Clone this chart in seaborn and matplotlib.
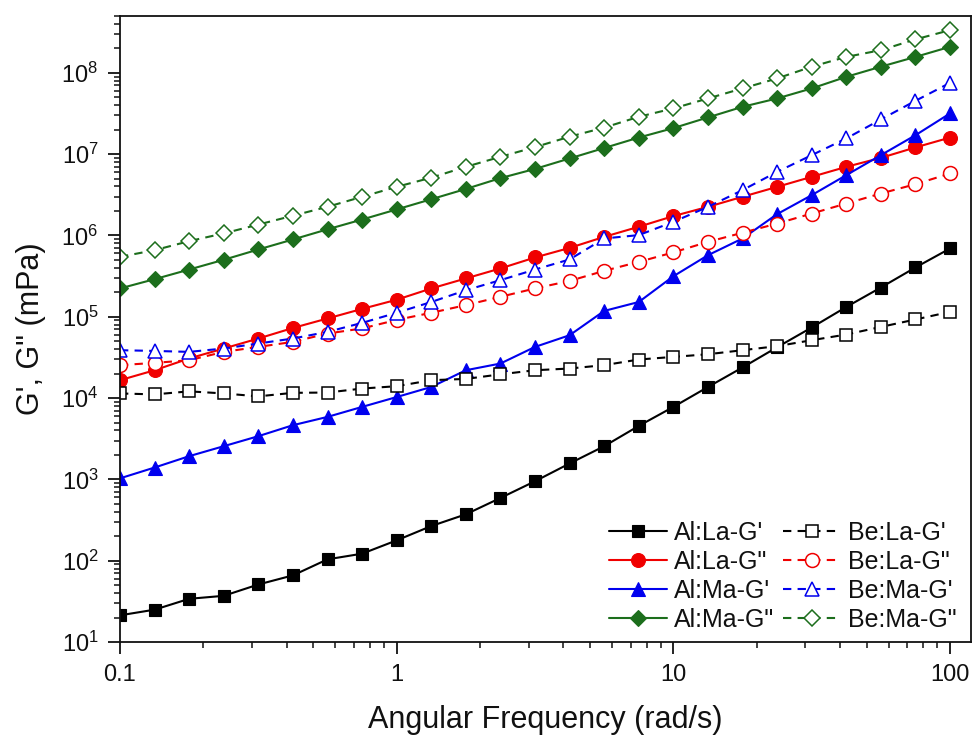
import numpy as np
import pandas as pd
import matplotlib
matplotlib.use("Agg")
import matplotlib.pyplot as plt
import seaborn as sns
from matplotlib.ticker import LogLocator, NullFormatter

# ---------------- data ----------------
freq = [0.1, 0.1334, 0.1778, 0.2371, 0.3162, 0.4217, 0.5623, 0.7499,
        1.0, 1.334, 1.778, 2.371, 3.162, 4.217, 5.623, 7.499,
        10.0, 13.34, 17.78, 23.71, 31.62, 42.17, 56.23, 74.99, 100.0]

al_la_g1 = [21.3, 25, 34, 37, 51, 66, 104, 122, 178, 267, 372, 591, 949, 1570,
            2560, 4550, 7790, 13700, 23800, 42200, 73800, 132000, 229000, 404000, 692000]
al_la_g2 = [16600, 22000, 30700, 40700, 54000, 72800, 95300, 125000, 162000, 223000,
            296000, 393000, 536000, 703000, 961000, 1.28e6, 1.73e6, 2.25e6, 2.99e6,
            3.96e6, 5.26e6, 6.98e6, 9.0e6, 1.21e7, 1.60e7]
al_ma_g1 = [1030, 1400, 1930, 2560, 3400, 4640, 5870, 7790, 10300, 13700, 22000,
            26600, 42600, 59300, 118000, 152000, 315000, 572000, 918000, 1.83e6,
            3.13e6, 5.52e6, 9.72e6, 1.71e7, 3.17e7]
al_ma_g2 = [223000, 290000, 381000, 502000, 672000, 892000, 1.19e6, 1.57e6, 2.09e6,
            2.79e6, 3.73e6, 5.07e6, 6.58e6, 8.85e6, 1.19e7, 1.60e7, 2.09e7, 2.83e7,
            3.82e7, 4.84e7, 6.43e7, 8.93e7, 1.19e8, 1.57e8, 2.09e8]
be_la_g1 = [11400, 11100, 12100, 11400, 10500, 11600, 11700, 13100, 14000, 16600,
            17200, 19600, 22000, 23100, 25400, 29800, 32100, 34600, 38800, 43500,
            51500, 60500, 75000, 92600, 115000]
be_la_g2 = [25400, 27100, 29200, 37000, 42600, 49100, 62200, 71800, 91500, 112000,
            139000, 176000, 223000, 276000, 367000, 473000, 619000, 834000, 1.08e6,
            1.40e6, 1.86e6, 2.47e6, 3.28e6, 4.27e6, 5.78e6]
be_ma_g1 = [38800, 38000, 37000, 40700, 46900, 54000, 65200, 84100, 112000, 152000,
            212000, 282000, 381000, 507000, 918000, 1.01e6, 1.47e6, 2.25e6, 3.61e6,
            6.05e6, 9.72e6, 1.56e7, 2.67e7, 4.53e7, 7.53e7]
be_ma_g2 = [546000, 659000, 851000, 1.06e6, 1.36e6, 1.75e6, 2.25e6, 2.99e6, 3.96e6,
            5.14e6, 6.98e6, 9.27e6, 1.22e7, 1.64e7, 2.12e7, 2.88e7, 3.65e7, 4.84e7,
            6.43e7, 8.53e7, 1.19e8, 1.57e8, 1.90e8, 2.58e8, 3.35e8]

labels = ["Al:La-G'", 'Al:La-G"', "Al:Ma-G'", 'Al:Ma-G"',
          "Be:La-G'", 'Be:La-G"', "Be:Ma-G'", 'Be:Ma-G"']
series = [al_la_g1, al_la_g2, al_ma_g1, al_ma_g2, be_la_g1, be_la_g2, be_ma_g1, be_ma_g2]
x_tick_labels = ["0.1", "1", "10", "100"]

# ---------------- style ----------------
BLACK, RED, BLUE, GREEN = "#000000", "#f00000", "#0000ee", "#1c6e1c"
colors = [BLACK, RED, BLUE, GREEN, BLACK, RED, BLUE, GREEN]
markers = ["s", "o", "^", "D", "s", "o", "^", "D"]
msizes = [9, 10, 10.5, 8, 9, 10, 10.5, 8]
filled = [True] * 4 + [False] * 4

sns.set_style("ticks")
plt.rcParams['font.family'] = ['Liberation Sans', 'DejaVu Sans']
plt.rcParams['mathtext.default'] = 'regular'
plt.rcParams['axes.linewidth'] = 1.3
for key in ['text.color', 'axes.labelcolor', 'xtick.color', 'ytick.color', 'axes.edgecolor']:
    plt.rcParams[key] = '#111111'

fig = plt.figure(figsize=(9.74, 7.40), dpi=100)
ax = fig.add_axes([0.1232, 0.1324, 0.8737, 0.8460])

for lab, vals, c, m, ms, f in zip(labels, series, colors, markers, msizes, filled):
    df = pd.DataFrame({"freq": freq, "val": vals})
    sns.lineplot(data=df, x="freq", y="val", ax=ax, color=c, marker=m,
                 markersize=ms, markerfacecolor=(c if f else "white"),
                 markeredgecolor=c, markeredgewidth=(0.8 if f else 1.1),
                 linewidth=1.5, linestyle=("-" if f else (0, (4, 3))),
                 label=lab)

ax.set_xscale("log")
ax.set_yscale("log")
ax.set_xlim(0.1, 119)
ax.set_ylim(10, 5e8)
ax.set_xticks([0.1, 1, 10, 100], labels=x_tick_labels)
ax.xaxis.set_minor_locator(LogLocator(base=10, subs=np.arange(2, 10), numticks=20))
ax.xaxis.set_minor_formatter(NullFormatter())
ax.yaxis.set_major_locator(LogLocator(base=10, numticks=20))
ax.yaxis.set_minor_locator(LogLocator(base=10, subs=np.arange(2, 10), numticks=20))
ax.yaxis.set_minor_formatter(NullFormatter())
ax.tick_params(which="major", direction="out", length=8.5, width=1.3, labelsize=17)
ax.tick_params(axis="x", which="major", pad=7)
ax.tick_params(axis="y", which="major", pad=7)
ax.tick_params(which="minor", direction="out", length=4.5, width=1.1)

for s in ax.spines.values():
    s.set_visible(True)

ax.set_xlabel("Angular Frequency (rad/s)", fontsize=22, labelpad=14)
ax.set_ylabel("G', G\" (mPa)", fontsize=22, labelpad=11)

ax.legend(ncol=2, loc="lower right", frameon=False, fontsize=18,
          handlelength=2.3, columnspacing=0.35, labelspacing=0.2,
          handletextpad=0.3, borderaxespad=0.0, bbox_to_anchor=(0.995, 0.0))

fig.savefig("out.png", dpi=100)
